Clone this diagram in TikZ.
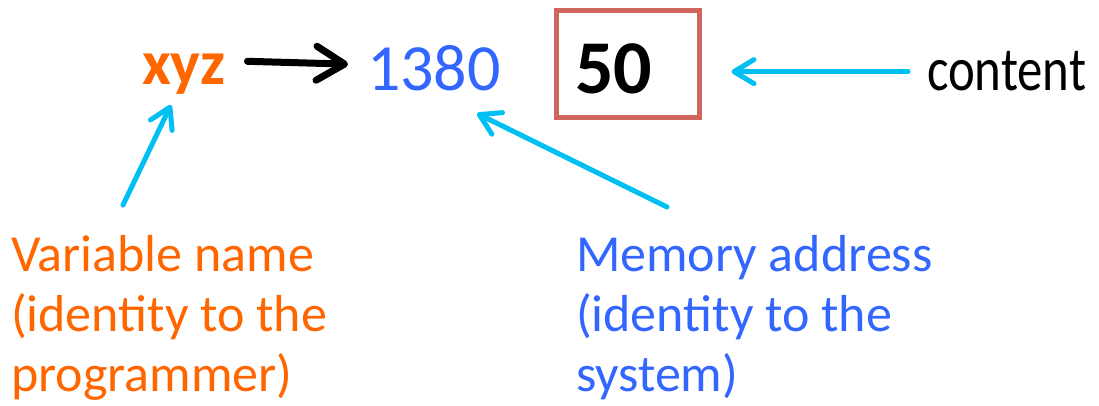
\documentclass[tikz,border=0pt]{standalone}
\usepackage{fontspec}
\setmainfont{Carlito}
\newfontfamily\narrowfont[FakeStretch=0.82]{Carlito}
\usetikzlibrary{positioning, arrows.meta}
\definecolor{clrname}{HTML}{FF6600}
\definecolor{clraddr}{HTML}{3366FF}
\definecolor{clrpointer}{HTML}{00BFF3}
\definecolor{clrcell}{HTML}{CF665E}

\begin{document}
\begin{tikzpicture}[
    x=1pt, y=-1pt,
    every node/.style={inner sep=0pt, outer sep=0pt},
    namelabel/.style={font=\fontsize{63}{76}\selectfont\bfseries, text=clrname, anchor=base west},
    addrlabel/.style={font=\fontsize{66}{78}\selectfont, text=clraddr, anchor=base west},
    cell/.style={draw=clrcell, line width=5pt, minimum width=143pt, minimum height=107pt},
    value/.style={font=\fontsize{76}{90}\selectfont\bfseries, anchor=base west},
    note/.style={font=\fontsize{52}{60}\selectfont, align=left, anchor=north west},
    tieline/.style={-{Straight Barb[length=28pt, width=34pt, round]}, line width=7pt, black, line cap=round},
    pointer/.style={-{Straight Barb[length=20pt, width=24pt, round]}, line width=5pt, color=clrpointer, line cap=round},
]
\clip (0,0) rectangle (1099,406);
% top row: name -> address, then the memory cell
\node[namelabel] (name) at (142,85) {xyz};
\node[addrlabel] (addr) at (367,91) {1380};
\node[cell] (cell) at (628,64.5) {};
\node[value] (value) at (575,94) {50};
\node[font=\narrowfont\fontsize{62}{74}\selectfont, anchor=base west] (content) at (927,91) {content};
% notes underneath
\node[note, text=clrname] (namenote) at (11,235) {Variable name\\(identity to the\\programmer)};
\node[note, text=clraddr] (addrnote) at (576,235) {Memory address\\(identity to the\\system)};
\draw[tieline, shorten <=22pt, shorten >=19pt] ([yshift=14pt]name.east) -- ([yshift=4pt]addr.west);
\draw[pointer, shorten <=19pt, shorten >=32pt] (content.west) -- (content.west -| cell.east);
\draw[pointer] ([shift={(112,-30)}]namenote.north west) -- ([shift={(29,10)}]name.south west);
\draw[pointer] ([shift={(91,-28)}]addrnote.north west) -- ([shift={(110,22)}]addr.south west);
\end{tikzpicture}
\end{document}
